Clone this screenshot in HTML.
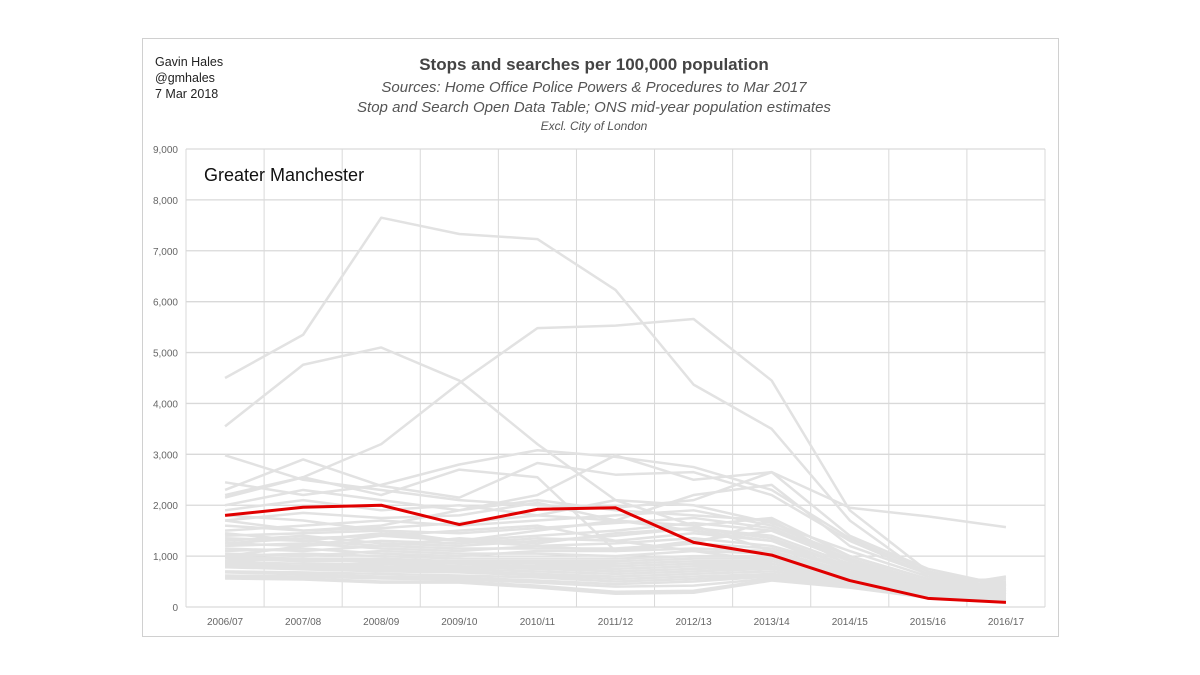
<!DOCTYPE html>
<html><head><meta charset="utf-8">
<style>
body{margin:0;width:1200px;height:675px;background:#fff;font-family:"Liberation Sans",sans-serif;overflow:hidden}
svg{position:absolute;left:0;top:0}
</style></head>
<body>
<svg id="chart" width="1200" height="675">
<rect x="142.5" y="38.5" width="916" height="598" fill="#fff" stroke="#d0d0d0"/>
<g font-size="12.5" fill="#222" font-family="Liberation Sans Narrow, Liberation Sans, sans-serif">
<text x="155" y="66">Gavin Hales</text><text x="155" y="82">@gmhales</text><text x="155" y="98">7 Mar 2018</text></g>
<text x="594" y="70" text-anchor="middle" font-size="17" font-weight="bold" fill="#444">Stops and searches per 100,000 population</text>
<text x="594" y="92" text-anchor="middle" font-size="15" font-style="italic" fill="#555">Sources: Home Office Police Powers &amp; Procedures to Mar 2017</text>
<text x="594" y="112" text-anchor="middle" font-size="15" font-style="italic" fill="#555">Stop and Search Open Data Table; ONS mid-year population estimates</text>
<text x="594" y="130" text-anchor="middle" font-size="12" font-style="italic" fill="#555">Excl. City of London</text>
<g id="grid"></g><g id="grey"></g><g id="red"></g><g id="axes"></g>
<text x="204" y="181" font-size="18" fill="#111">Greater Manchester</text>
</svg>
<script>
const categories=["2006/07","2007/08","2008/09","2009/10","2010/11","2011/12","2012/13","2013/14","2014/15","2015/16","2016/17"];
const yTicks=[0,1000,2000,3000,4000,5000,6000,7000,8000,9000];
const highlight=[1800,1960,2000,1620,1920,1950,1270,1020,520,170,90];
const others=[
[4500,5350,7650,7330,7230,6230,4370,3500,1700,600,250],
[3550,4760,5100,4450,3200,2100,1600,1100,600,300,150],
[2200,2550,3200,4400,5480,5530,5660,4450,1900,700,300],
[2980,2500,2300,2100,2000,1950,2100,2650,1950,1780,1570],
[2450,2200,2400,2800,3080,2950,2750,2300,1350,700,400],
[2300,2900,2380,2150,2830,2600,2650,2200,1300,650,350],
[2150,2550,2200,2700,2550,1100,1250,1700,900,500,300],
[2000,2300,2100,1900,2200,2980,2500,2650,1400,750,420],
[1700,1850,1750,1800,2050,1700,2200,2400,1200,650,450],
[1600,1500,1550,1650,1800,2100,2000,1650,1100,600,500],
[1500,1600,1700,1600,1700,1800,1900,1600,1000,550,400],
[1400,1450,1500,1450,1550,1650,1750,1550,950,500,380],
[1350,1300,1450,1300,1400,1500,1650,1500,900,480,350],
[1300,1400,1250,1200,1300,1400,1550,1400,850,450,330],
[1250,1200,1300,1250,1350,1300,1450,1300,800,420,300],
[1200,1250,1150,1100,1200,1250,1350,1200,780,400,280],
[1150,1100,1200,1150,1150,1150,1250,1150,750,380,260],
[1100,1150,1050,1000,1100,1100,1150,1100,700,360,250],
[1050,1000,1100,1050,1050,1000,1100,1050,680,340,240],
[1000,1050,1000,950,950,950,1000,1000,650,320,230],
[980,950,950,900,900,900,950,950,620,300,220],
[950,900,920,880,850,850,900,900,600,290,210],
[900,950,880,850,800,800,850,850,580,280,200],
[880,850,850,800,780,750,800,800,560,270,190],
[850,800,800,780,750,700,750,780,540,260,180],
[820,780,760,740,700,650,700,750,520,250,170],
[800,760,740,700,650,600,650,700,500,240,160],
[780,740,700,680,620,550,600,650,480,230,150],
[700,680,650,620,580,500,550,620,460,220,140],
[680,640,600,580,520,450,500,600,440,210,130],
[620,600,560,540,480,400,420,560,420,200,120],
[580,560,500,500,420,300,320,540,400,190,110],
[560,540,480,480,380,260,280,520,380,180,100],
[1250,1350,1400,1500,1600,1300,1100,900,600,350,600],
[1800,1700,1500,1300,1200,1100,1300,1500,900,500,550],
[1900,2100,1900,2000,1800,1700,1600,1750,1000,550,480],
[1700,1500,1600,1900,2100,1900,1800,1700,800,400,250],
[1000,1200,1400,1300,1500,1700,1500,1300,700,350,200],
[1450,1300,1200,1350,1250,1450,1550,1350,800,450,320]
];
const NS="http://www.w3.org/2000/svg";
const L=186,R=1045,T=149,B=607,yMax=9000;
const step=(R-L)/categories.length;
function xPos(i){return L+step*(i+0.5);}
function yPos(v){return B-(v/yMax)*(B-T);}
function mk(tag,attrs,parent){const e=document.createElementNS(NS,tag);for(const k in attrs)e.setAttribute(k,attrs[k]);parent.appendChild(e);return e;}
const grid=document.getElementById('grid'),axes=document.getElementById('axes');
yTicks.forEach(v=>{
  const ln=mk('line',{x1:L,x2:R,y1:yPos(v),y2:yPos(v),stroke:'#d9d9d9','stroke-width':1.3},grid);
  
  
  const t=mk('text',{x:L-8,y:yPos(v)+4,'text-anchor':'end','font-size':10,fill:'#666'},axes);
  t.textContent=v.toLocaleString('en-US');
  
  
});
for(let k=0;k<=categories.length;k++){
  const ln=mk('line',{x1:L+step*k,x2:L+step*k,y1:T,y2:B,stroke:'#d9d9d9','stroke-width':1},grid);
  
  
}
categories.forEach((c,i)=>{
  const t=mk('text',{x:xPos(i),y:B+18,'text-anchor':'middle','font-size':10,fill:'#666'},axes);
  t.textContent=c;
  
  
});
function pts(s){return s.map((v,i)=>xPos(i)+','+yPos(v)).join(' ');}
const grey=document.getElementById('grey');
others.forEach(s=>{
  const p=mk('polyline',{points:pts(s),fill:'none',stroke:'#e2e2e2','stroke-width':2.5,'stroke-linejoin':'round'},grey);
  
  
});
const red=mk('polyline',{points:pts(highlight),fill:'none',stroke:'#e00000','stroke-width':3,'stroke-linejoin':'round'},document.getElementById('red'));


</script>
</body></html>
